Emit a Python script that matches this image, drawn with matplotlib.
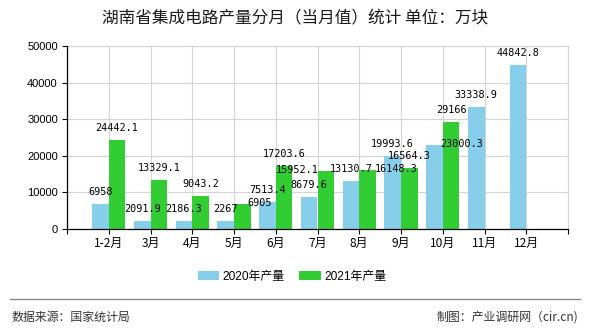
import matplotlib
matplotlib.use("Agg")
import matplotlib.pyplot as plt
from matplotlib.patches import Patch
from matplotlib.lines import Line2D

plt.rcParams['font.family'] = ['Liberation Sans', 'Noto Sans CJK SC', 'DejaVu Sans']

categories = ['1-2月', '3月', '4月', '5月', '6月', '7月', '8月', '9月', '10月', '11月', '12月']
prod_2020 = [6958, 2091.9, 2186.3, 2267, 7513.4, 8679.6, 13130.7, 19993.6, 23000.3, 33338.9, 44842.8]
prod_2021 = [24442.1, 13329.1, 9043.2, 6905, 17203.6, 15952.1, 16148.3, 16564.3, 29166]
series_names = ['2020年产量', '2021年产量']
title = '湖南省集成电路产量分月（当月值）统计 单位：万块'
source_text = '数据来源：国家统计局'
credit_text = '制图：产业调研网（cir.cn)'

c2020 = '#87CEEB'
c2021 = '#32CD32'

# label offsets (pixels) relative to bar top, default (0, 12)
off_2020 = {8: (27.5, 1)}
off_2021 = {3: (17, 1), 5: (-29, 1), 6: (28.5, 1)}

W, H = 590, 330
fig = plt.figure(figsize=(W / 100, H / 100), dpi=100)
ax = fig.add_axes([67 / W, 101 / H, 501 / W, 183 / H])

bw = 0.4
x20 = [i - bw / 2 for i in range(len(prod_2020))]
x21 = [i + bw / 2 for i in range(len(prod_2021))]
ax.bar(x20, prod_2020, width=bw, color=c2020, zorder=3)
ax.bar(x21, prod_2021, width=bw, color=c2021, zorder=3)

lab_font = dict(family='DejaVu Sans Mono', size=7.3, color='black')
for i, v in enumerate(prod_2020):
    dx, dy = off_2020.get(i, (0, 12))
    ax.annotate(f'{v:g}', xy=(x20[i], v), xytext=(dx, dy), textcoords='offset pixels',
                ha='center', va='center', zorder=5, **lab_font)
for i, v in enumerate(prod_2021):
    dx, dy = off_2021.get(i, (0, 12))
    ax.annotate(f'{v:g}', xy=(x21[i], v), xytext=(dx, dy), textcoords='offset pixels',
                ha='center', va='center', zorder=5, **lab_font)

ax.set_xlim(-1, len(categories))
ax.set_ylim(0, 50000)
ax.set_yticks(range(0, 50001, 10000))
ax.set_yticklabels([str(t) for t in range(0, 50001, 10000)], fontsize=8, family='Liberation Sans')
xt = list(range(-1, len(categories) + 1))
ax.set_xticks(xt)
ax.set_xticklabels([''] + categories + [''], fontsize=8.6, family=['Noto Sans CJK SC'])
ax.tick_params(axis='both', direction='out', length=3.6, width=0.8, color='black')
ax.tick_params(axis='y', pad=3)
ax.tick_params(axis='x', pad=2)

ax.grid(True, color='#d3d3d3', linewidth=0.8, zorder=0)
ax.set_axisbelow(True)
for s in ['top', 'right']:
    ax.spines[s].set_color('#d3d3d3')
    ax.spines[s].set_linewidth(0.8)
for s in ['left', 'bottom']:
    ax.spines[s].set_color('black')
    ax.spines[s].set_linewidth(0.9)
    ax.spines[s].set_zorder(4)

fig.text(295 / W, 1 - 19 / H, title, ha='center', va='center', fontsize=12,
         family=['Noto Sans CJK SC'], color='#1a1a1a')

handles = [Patch(facecolor=c2020), Patch(facecolor=c2021)]
leg = fig.legend(handles, series_names, loc='center', bbox_to_anchor=(292 / W, 1 - 277 / H),
                 ncol=2, frameon=False, fontsize=8.6, handlelength=1.8, handleheight=0.75,
                 handletextpad=0.3, columnspacing=1.2)

fig.add_artist(Line2D([10 / W, 580 / W], [1 - 299 / H, 1 - 299 / H], color='#888888', linewidth=1.0))
fig.text(11 / W, 1 - 317 / H, source_text, ha='left', va='center', fontsize=8.6,
         family=['Noto Sans CJK SC'], color='#333333')
fig.text(578 / W, 1 - 317 / H, credit_text, ha='right', va='center', fontsize=8.6,
         family=['Noto Sans CJK SC'], color='#333333')

fig.savefig('out.png', dpi=100)
